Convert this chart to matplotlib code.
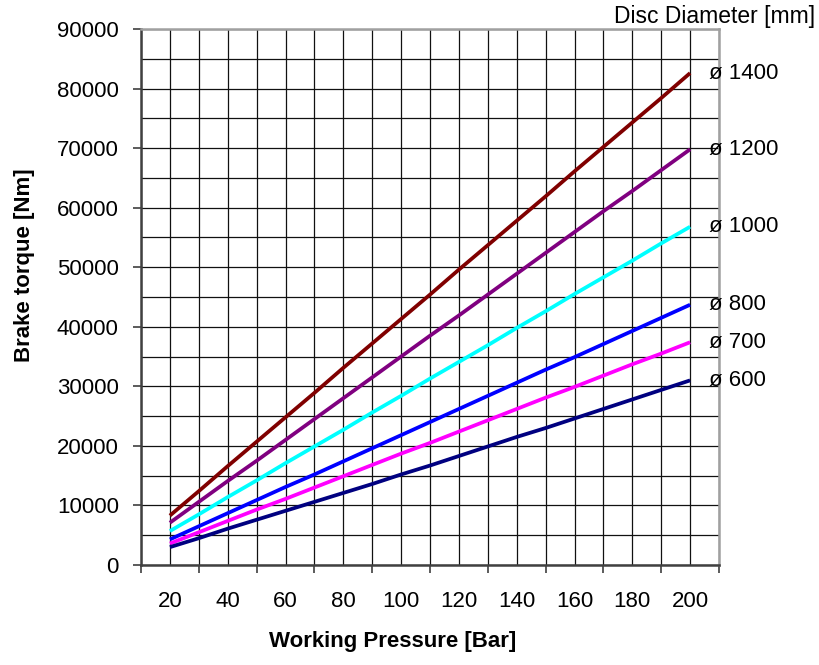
import numpy as np
import matplotlib
matplotlib.use("Agg")
import matplotlib.pyplot as plt
from matplotlib.ticker import FixedLocator

plt.rcParams['font.family'] = ['Liberation Sans', 'DejaVu Sans']

# working pressure [bar]
pressure = [20, 30, 40, 50, 60, 70, 80, 90, 100, 110, 120, 130, 140, 150, 160, 170, 180, 190, 200]

# brake torque [Nm] per disc diameter
d600 = [3000, 4500, 6100, 7600, 9100, 10600, 12100, 13600, 15200, 16700, 18300, 19900, 21500, 23000, 24600, 26200, 27800, 29400, 31000]
d700 = [3600, 5500, 7400, 9300, 11100, 13000, 14900, 16800, 18700, 20500, 22400, 24300, 26200, 28100, 29900, 31800, 33700, 35500, 37400]
d800 = [4300, 6500, 8700, 10900, 13100, 15200, 17400, 19600, 21800, 24000, 26200, 28400, 30600, 32800, 34900, 37100, 39300, 41500, 43700]
d1000 = [5700, 8500, 11400, 14200, 17100, 19900, 22700, 25600, 28400, 31300, 34100, 36900, 39800, 42600, 45500, 48300, 51100, 54000, 56800]
d1200 = [7100, 10600, 14100, 17500, 21000, 24500, 28000, 31500, 35000, 38500, 41900, 45400, 48900, 52400, 55900, 59400, 62800, 66300, 69800]
d1400 = [8300, 12400, 16600, 20700, 24800, 28900, 33100, 37200, 41300, 45400, 49600, 53700, 57800, 61900, 66100, 70200, 74300, 78400, 82600]

series = [
    ("ø 1400", d1400, "#800000"),
    ("ø 1200", d1200, "#800080"),
    ("ø 1000", d1000, "#00ffff"),
    ("ø 800", d800, "#0000ff"),
    ("ø 700", d700, "#ff00ff"),
    ("ø 600", d600, "#000080"),
]

fig = plt.figure(figsize=(8.19, 6.65), dpi=100)
ax = fig.add_axes([141/819, 1-565/665, (719-141)/819, (565-29)/665])

for name, vals, col in series:
    ax.plot(pressure, vals, color=col, lw=2.7, solid_capstyle='butt', zorder=3)
    # label at the end of each line
    ax.annotate(name, xy=(pressure[-1], vals[-1]), xytext=(19, 0),
                textcoords='offset pixels', va='center', ha='left', fontsize=16)

ax.set_xlim(10, 210)
ax.set_ylim(0, 90000)

# x: labels at 20..200, tick marks between them
ax.xaxis.set_major_locator(FixedLocator(np.arange(20, 201, 20)))
ax.xaxis.set_minor_locator(FixedLocator(np.arange(10, 211, 20)))
ax.tick_params(axis='x', which='major', length=0, pad=19, labelsize=16)
ax.tick_params(axis='x', which='minor', length=6, width=1.2, color='#404040')

ax.yaxis.set_major_locator(FixedLocator(np.arange(0, 90001, 10000)))
ax.yaxis.set_minor_locator(FixedLocator(np.arange(5000, 90000, 10000)))
ax.tick_params(axis='y', which='major', length=6, width=1.2, color='#404040', pad=10, labelsize=16)
ax.tick_params(axis='y', which='minor', length=0)

ax.grid(True, which='both', color='#111111', lw=0.9, zorder=1)
ax.set_axisbelow(True)

for s in ['top', 'right']:
    ax.spines[s].set_color('#a0a0a0')
    ax.spines[s].set_linewidth(1.8)
for s in ['left', 'bottom']:
    ax.spines[s].set_color('#404040')
    ax.spines[s].set_linewidth(1.8)

fig.text(25/819, 1-265/665, "Brake torque [Nm]", rotation=90, ha='center', va='center',
         fontsize=16, fontweight='bold')
fig.text(393/819, 1-641/665, "Working Pressure [Bar]", ha='center', va='center',
         fontsize=16, fontweight='bold')
fig.text(815/819, 1-16/665, "Disc Diameter [mm]", ha='right', va='center', fontsize=16.5)

fig.savefig("out.png", dpi=100)
